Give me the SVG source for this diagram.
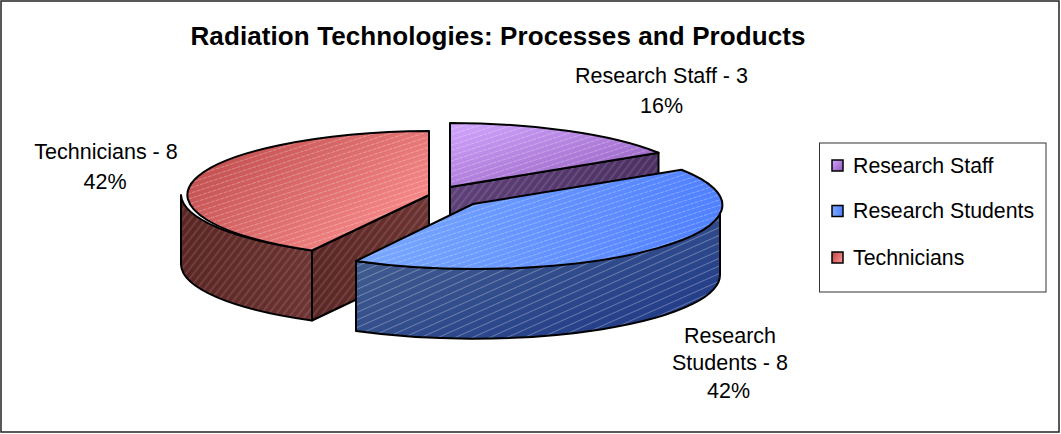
<svg xmlns="http://www.w3.org/2000/svg" width="1061" height="434" viewBox="0 0 1061 434">
<style>
  .lbl{font-family:"Liberation Sans",Arial,sans-serif;font-size:21.5px;fill:#000;text-anchor:middle}
  .leg{font-family:"Liberation Sans",Arial,sans-serif;font-size:21.3px;fill:#000}
  .ttl{font-family:"Liberation Sans",Arial,sans-serif;font-size:26px;font-weight:bold;fill:#000}
  .edge{stroke:#000;stroke-width:2;stroke-linejoin:round}
  .sw{stroke:#000;stroke-width:1.5}
</style>
<defs>
  <linearGradient id="gPurpleTop" x1="0" y1="0" x2="1" y2="1">
    <stop offset="0" stop-color="#d2a6ff"/><stop offset="1" stop-color="#8e58b8"/>
  </linearGradient>
  <linearGradient id="gPurpleSide" x1="0" y1="0" x2="1" y2="0">
    <stop offset="0" stop-color="#5e4078"/><stop offset="1" stop-color="#4c3062"/>
  </linearGradient>
  <linearGradient id="gRedTop" x1="0" y1="0" x2="1" y2="0.6">
    <stop offset="0" stop-color="#b84444"/><stop offset="1" stop-color="#f88a8a"/>
  </linearGradient>
  <linearGradient id="gRedSide" x1="0" y1="0" x2="1" y2="0">
    <stop offset="0" stop-color="#5a2624"/><stop offset="1" stop-color="#6c3432"/>
  </linearGradient>
  <linearGradient id="gBlueTop" x1="0" y1="0" x2="1" y2="0">
    <stop offset="0" stop-color="#7aa8ff"/><stop offset="1" stop-color="#4f80ff"/>
  </linearGradient>
  <linearGradient id="gBlueSide" x1="0" y1="0" x2="1" y2="1">
    <stop offset="0" stop-color="#4a6690"/><stop offset="1" stop-color="#1c3688"/>
  </linearGradient>
  <pattern id="hFlat" width="5" height="5" patternUnits="userSpaceOnUse" patternTransform="rotate(-18)">
    <line x1="0" y1="2.5" x2="5" y2="2.5" stroke="#fff" stroke-opacity="0.28" stroke-width="1" stroke-dasharray="2 1"/>
  </pattern>
  <pattern id="hSteep" width="6" height="6" patternUnits="userSpaceOnUse" patternTransform="rotate(-52)">
    <line x1="0" y1="3" x2="6" y2="3" stroke="#fff" stroke-opacity="0.22" stroke-width="1"/>
  </pattern>
  <pattern id="hMid" width="7" height="7" patternUnits="userSpaceOnUse" patternTransform="rotate(-24)">
    <line x1="0" y1="3.5" x2="7" y2="3.5" stroke="#fff" stroke-opacity="0.28" stroke-width="1"/>
  </pattern>
</defs>

<rect x="1" y="1" width="1058" height="431" fill="#fff" stroke="#222" stroke-width="1.5"/>

<g id="title">
  <text class="ttl" x="190.5" y="45" textLength="615" lengthAdjust="spacing">Radiation Technologies: Processes and Products</text>
</g>

<g id="slice-research-staff">
  <path d="M450 187 L658.5 152.7 L658.5 222.7 L450 257 Z" fill="url(#gPurpleSide)"/>
  <path d="M450 187 L658.5 152.7 L658.5 222.7 L450 257 Z" fill="url(#hSteep)" class="edge"/>
  <path d="M450 187 L450 123 A247 64 0 0 1 658.5 152.7 Z" fill="url(#gPurpleTop)"/>
  <path d="M450 187 L450 123 A247 64 0 0 1 658.5 152.7 Z" fill="url(#hFlat)" class="edge"/>
</g>

<g id="slice-technicians">
  <path d="M181 195 A248 64 0 0 0 312 250.5 L312 320.5 A248 64 0 0 1 181 265 Z" fill="url(#gRedSide)"/>
  <path d="M181 195 A248 64 0 0 0 312 250.5 L312 320.5 A248 64 0 0 1 181 265 Z" fill="url(#hSteep)" class="edge"/>
  <path d="M429 195 L312 250.5 L312 320.5 L429 265 Z" fill="url(#gRedSide)"/>
  <path d="M429 195 L312 250.5 L312 320.5 L429 265 Z" fill="url(#hSteep)" class="edge"/>
  <path d="M429 195 L429 131 A248 64 0 0 0 312 250.5 Z" fill="url(#gRedTop)"/>
  <path d="M429 195 L429 131 A248 64 0 0 0 312 250.5 Z" fill="url(#hFlat)" class="edge"/>
</g>

<g id="slice-research-students">
  <path d="M720 204 A247 64 0 0 1 356 261 L356 331 A247 64 0 0 0 720 274 Z" fill="url(#gBlueSide)"/>
  <path d="M720 204 A247 64 0 0 1 356 261 L356 331 A247 64 0 0 0 720 274 Z" fill="url(#hMid)" class="edge"/>
  <path d="M473 204 L681.5 169.7 A247 64 0 0 1 356 261 Z" fill="url(#gBlueTop)"/>
  <path d="M473 204 L681.5 169.7 A247 64 0 0 1 356 261 Z" fill="url(#hFlat)" class="edge"/>
</g>

<g id="labels">
  <text class="lbl" x="661.5" y="82.7">Research Staff - 3</text>
  <text class="lbl" x="661.5" y="113">16%</text>
  <text class="lbl" x="106" y="159.3">Technicians - 8</text>
  <text class="lbl" x="105" y="189.3">42%</text>
  <text class="lbl" x="730" y="342.5">Research</text>
  <text class="lbl" x="730" y="370">Students - 8</text>
  <text class="lbl" x="728.5" y="398">42%</text>
</g>

<g id="legend">
  <rect x="819.5" y="143" width="226.5" height="149" fill="#fff" stroke="#333" stroke-width="1"/>
  <rect class="sw" x="832" y="160" width="11" height="11" fill="url(#gPurpleTop)"/>
  <rect class="sw" x="832" y="205.5" width="11" height="11" fill="url(#gBlueTop)"/>
  <rect class="sw" x="832" y="252" width="11" height="11" fill="url(#gRedTop)"/>
  <text class="leg" x="853" y="172.5">Research Staff</text>
  <text class="leg" x="853" y="218.3">Research Students</text>
  <text class="leg" x="853" y="265">Technicians</text>
</g>
</svg>
